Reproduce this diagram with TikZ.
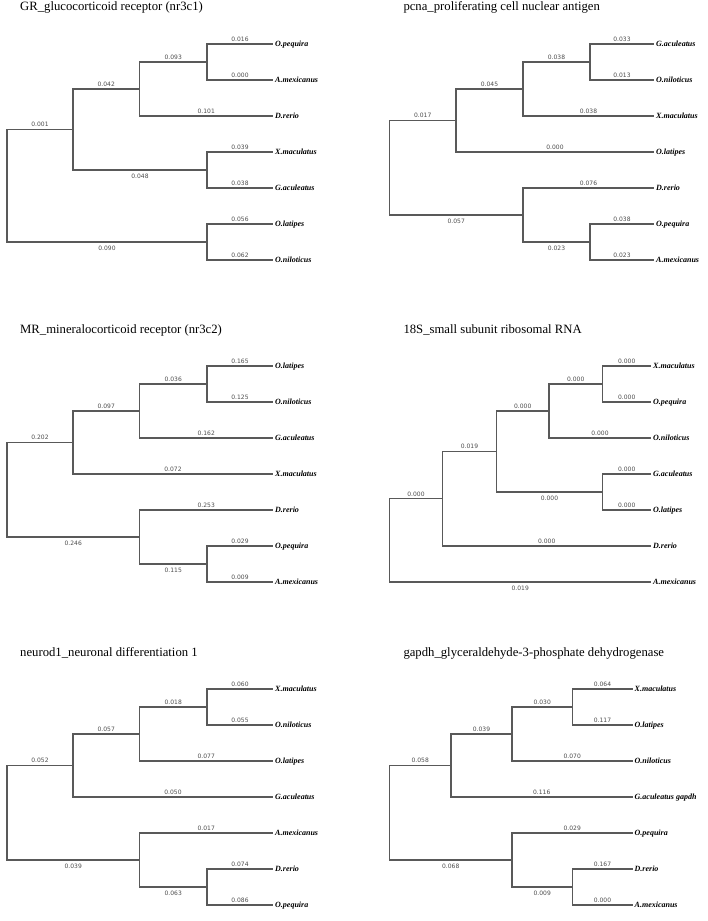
\documentclass[tikz,border=0pt]{standalone}
\usepackage{fontspec}
\setmainfont{Liberation Serif}
\newfontfamily\lenfamily{DejaVu Sans}

\begin{document}
\begin{tikzpicture}[
    x=1pt, y=-1pt,
    branch/.style={draw=black!65, line width=1.1pt},
    len/.style={pos=0.75, font=\fontsize{6}{7}\selectfont\lenfamily, text=black!70, inner sep=2pt},
    taxon/.style={anchor=west, font=\fontsize{8}{9}\selectfont\bfseries\itshape, inner sep=2pt, text height=5.5pt, text depth=0pt},
    ttl/.style={anchor=base west, font=\fontsize{12.7}{14}\selectfont, inner sep=0pt}
]
\useasboundingbox (0,0) rectangle (708,921);

% GR tree
\node[ttl] (grT) at (20,10.7) {GR\_glucocorticoid receptor (nr3c1)};
\coordinate (grR) at (7,185.75);
\coordinate (grA) at (73,129.5);
\coordinate (grB) at (139.5,89);
\coordinate (grC) at (207,62);
\coordinate (grXG) at (207,170);
\coordinate (grOL) at (207,242);
\node[taxon] (grOpeq) at (273,44) {O.pequira};
\node[taxon] (grAmex) at (273,80) {A.mexicanus};
\node[taxon] (grDrer) at (273,116) {D.rerio};
\node[taxon] (grXmac) at (273,152) {X.maculatus};
\node[taxon] (grGacu) at (273,188) {G.aculeatus};
\node[taxon] (grOlat) at (273,224) {O.latipes};
\node[taxon] (grOnil) at (273,260) {O.niloticus};
\draw[branch] (grR) |- node[len, above] {0.001} (grA);
\draw[branch] (grR) |- node[len, below=1.8pt] {0.090} (grOL);
\draw[branch] (grA) |- node[len, above] {0.042} (grB);
\draw[branch] (grA) |- node[len, below=1.8pt] {0.048} (grXG);
\draw[branch] (grB) |- node[len, above] {0.093} (grC);
\draw[branch] (grB) |- node[len, above] {0.101} (grDrer);
\draw[branch] (grC) |- node[len, above] {0.016} (grOpeq);
\draw[branch] (grC) |- node[len, above] {0.000} (grAmex);
\draw[branch] (grXG) |- node[len, above] {0.039} (grXmac);
\draw[branch] (grXG) |- node[len, above] {0.038} (grGacu);
\draw[branch] (grOL) |- node[len, above] {0.056} (grOlat);
\draw[branch] (grOL) |- node[len, above] {0.062} (grOnil);

% pcna tree
\node[ttl] (pcT) at (403.3,10.7) {pcna\_proliferating cell nuclear antigen};
\coordinate (pcR) at (389.5,167.75);
\coordinate (pcA) at (456,120.5);
\coordinate (pcB) at (523,89);
\coordinate (pcC) at (590,62);
\coordinate (pcD) at (523,215);
\coordinate (pcE) at (590,242);
\node[taxon] (pcGacu) at (654,44) {G.aculeatus};
\node[taxon] (pcOnil) at (654,80) {O.niloticus};
\node[taxon] (pcXmac) at (654,116) {X.maculatus};
\node[taxon] (pcOlat) at (654,152) {O.latipes};
\node[taxon] (pcDrer) at (654,188) {D.rerio};
\node[taxon] (pcOpeq) at (654,224) {O.pequira};
\node[taxon] (pcAmex) at (654,260) {A.mexicanus};
\draw[branch] (pcR) |- node[len, above] {0.017} (pcA);
\draw[branch] (pcR) |- node[len, below=1.8pt] {0.057} (pcD);
\draw[branch] (pcA) |- node[len, above] {0.045} (pcB);
\draw[branch] (pcA) |- node[len, above] {0.000} (pcOlat);
\draw[branch] (pcB) |- node[len, above] {0.038} (pcC);
\draw[branch] (pcB) |- node[len, above] {0.038} (pcXmac);
\draw[branch] (pcC) |- node[len, above] {0.033} (pcGacu);
\draw[branch] (pcC) |- node[len, above] {0.013} (pcOnil);
\draw[branch] (pcD) |- node[len, above] {0.076} (pcDrer);
\draw[branch] (pcD) |- node[len, below=1.8pt] {0.023} (pcE);
\draw[branch] (pcE) |- node[len, above] {0.038} (pcOpeq);
\draw[branch] (pcE) |- node[len, above] {0.023} (pcAmex);

% MR tree
\node[ttl] (mrT) at (20,333.3) {MR\_mineralocorticoid receptor (nr3c2)};
\coordinate (mrR) at (7,489.75);
\coordinate (mrA) at (73,442.5);
\coordinate (mrB) at (139.5,411);
\coordinate (mrC) at (207,384);
\coordinate (mrD) at (139.5,537);
\coordinate (mrE) at (207,564);
\node[taxon] (mrOlat) at (273,366) {O.latipes};
\node[taxon] (mrOnil) at (273,402) {O.niloticus};
\node[taxon] (mrGacu) at (273,438) {G.aculeatus};
\node[taxon] (mrXmac) at (273,474) {X.maculatus};
\node[taxon] (mrDrer) at (273,510) {D.rerio};
\node[taxon] (mrOpeq) at (273,546) {O.pequira};
\node[taxon] (mrAmex) at (273,582) {A.mexicanus};
\draw[branch] (mrR) |- node[len, above] {0.202} (mrA);
\draw[branch] (mrR) |- node[len, below=1.8pt] {0.246} (mrD);
\draw[branch] (mrA) |- node[len, above] {0.097} (mrB);
\draw[branch] (mrA) |- node[len, above] {0.072} (mrXmac);
\draw[branch] (mrB) |- node[len, above] {0.036} (mrC);
\draw[branch] (mrB) |- node[len, above] {0.162} (mrGacu);
\draw[branch] (mrC) |- node[len, above] {0.165} (mrOlat);
\draw[branch] (mrC) |- node[len, above] {0.125} (mrOnil);
\draw[branch] (mrD) |- node[len, above] {0.253} (mrDrer);
\draw[branch] (mrD) |- node[len, below=1.8pt] {0.115} (mrE);
\draw[branch] (mrE) |- node[len, above] {0.029} (mrOpeq);
\draw[branch] (mrE) |- node[len, above] {0.009} (mrAmex);

% 18S tree
\node[ttl] (rsT) at (403.3,333.8) {18S\_small subunit ribosomal RNA};
\coordinate (rsR) at (389.5,540.4);
\coordinate (rsA) at (442.5,498.75);
\coordinate (rsB) at (496.5,451.5);
\coordinate (rsC) at (549,411);
\coordinate (rsD) at (602.5,384);
\coordinate (rsE) at (602.5,492);
\node[taxon] (rsXmac) at (651,366) {X.maculatus};
\node[taxon] (rsOpeq) at (651,402) {O.pequira};
\node[taxon] (rsOnil) at (651,438) {O.niloticus};
\node[taxon] (rsGacu) at (651,474) {G.aculeatus};
\node[taxon] (rsOlat) at (651,510) {O.latipes};
\node[taxon] (rsDrer) at (651,546) {D.rerio};
\node[taxon] (rsAmex) at (651,582) {A.mexicanus};
\draw[branch] (rsR) |- node[len, above] {0.000} (rsA);
\draw[branch] (rsR) |- node[len, below=1.8pt] {0.019} (rsAmex);
\draw[branch] (rsA) |- node[len, above] {0.019} (rsB);
\draw[branch] (rsA) |- node[len, above] {0.000} (rsDrer);
\draw[branch] (rsB) |- node[len, above] {0.000} (rsC);
\draw[branch] (rsB) |- node[len, below=1.8pt] {0.000} (rsE);
\draw[branch] (rsC) |- node[len, above] {0.000} (rsD);
\draw[branch] (rsC) |- node[len, above] {0.000} (rsOnil);
\draw[branch] (rsD) |- node[len, above] {0.000} (rsXmac);
\draw[branch] (rsD) |- node[len, above] {0.000} (rsOpeq);
\draw[branch] (rsE) |- node[len, above] {0.000} (rsGacu);
\draw[branch] (rsE) |- node[len, above] {0.000} (rsOlat);

% neurod1 tree
\node[ttl] (ndT) at (20,656) {neurod1\_neuronal differentiation 1};
\coordinate (ndR) at (7,812.75);
\coordinate (ndA) at (73,765.5);
\coordinate (ndB) at (139.5,734);
\coordinate (ndC) at (207,707);
\coordinate (ndD) at (139.5,860);
\coordinate (ndE) at (207,887);
\node[taxon] (ndXmac) at (273,689) {X.maculatus};
\node[taxon] (ndOnil) at (273,725) {O.niloticus};
\node[taxon] (ndOlat) at (273,761) {O.latipes};
\node[taxon] (ndGacu) at (273,797) {G.aculeatus};
\node[taxon] (ndAmex) at (273,833) {A.mexicanus};
\node[taxon] (ndDrer) at (273,869) {D.rerio};
\node[taxon] (ndOpeq) at (273,905) {O.pequira};
\draw[branch] (ndR) |- node[len, above] {0.052} (ndA);
\draw[branch] (ndR) |- node[len, below=1.8pt] {0.039} (ndD);
\draw[branch] (ndA) |- node[len, above] {0.057} (ndB);
\draw[branch] (ndA) |- node[len, above] {0.050} (ndGacu);
\draw[branch] (ndB) |- node[len, above] {0.018} (ndC);
\draw[branch] (ndB) |- node[len, above] {0.077} (ndOlat);
\draw[branch] (ndC) |- node[len, above] {0.060} (ndXmac);
\draw[branch] (ndC) |- node[len, above] {0.055} (ndOnil);
\draw[branch] (ndD) |- node[len, above] {0.017} (ndAmex);
\draw[branch] (ndD) |- node[len, below=1.8pt] {0.063} (ndE);
\draw[branch] (ndE) |- node[len, above] {0.074} (ndDrer);
\draw[branch] (ndE) |- node[len, above] {0.086} (ndOpeq);

% gapdh tree
\node[ttl] (gpT) at (403.3,656) {gapdh\_glyceraldehyde-3-phosphate dehydrogenase};
\coordinate (gpR) at (389.5,812.75);
\coordinate (gpA) at (451,765.5);
\coordinate (gpB) at (512,734);
\coordinate (gpC) at (572.5,707);
\coordinate (gpD) at (512,860);
\coordinate (gpE) at (572.5,887);
\node[taxon] (gpXmac) at (632.5,689) {X.maculatus};
\node[taxon] (gpOlat) at (632.5,725) {O.latipes};
\node[taxon] (gpOnil) at (632.5,761) {O.niloticus};
\node[taxon] (gpGacu) at (632.5,797) {G.aculeatus gapdh};
\node[taxon] (gpOpeq) at (632.5,833) {O.pequira};
\node[taxon] (gpDrer) at (632.5,869) {D.rerio};
\node[taxon] (gpAmex) at (632.5,905) {A.mexicanus};
\draw[branch] (gpR) |- node[len, above] {0.058} (gpA);
\draw[branch] (gpR) |- node[len, below=1.8pt] {0.068} (gpD);
\draw[branch] (gpA) |- node[len, above] {0.039} (gpB);
\draw[branch] (gpA) |- node[len, above] {0.116} (gpGacu);
\draw[branch] (gpB) |- node[len, above] {0.030} (gpC);
\draw[branch] (gpB) |- node[len, above] {0.070} (gpOnil);
\draw[branch] (gpC) |- node[len, above] {0.064} (gpXmac);
\draw[branch] (gpC) |- node[len, above] {0.117} (gpOlat);
\draw[branch] (gpD) |- node[len, above] {0.029} (gpOpeq);
\draw[branch] (gpD) |- node[len, below=1.8pt] {0.009} (gpE);
\draw[branch] (gpE) |- node[len, above] {0.167} (gpDrer);
\draw[branch] (gpE) |- node[len, above] {0.000} (gpAmex);
\end{tikzpicture}
\end{document}
